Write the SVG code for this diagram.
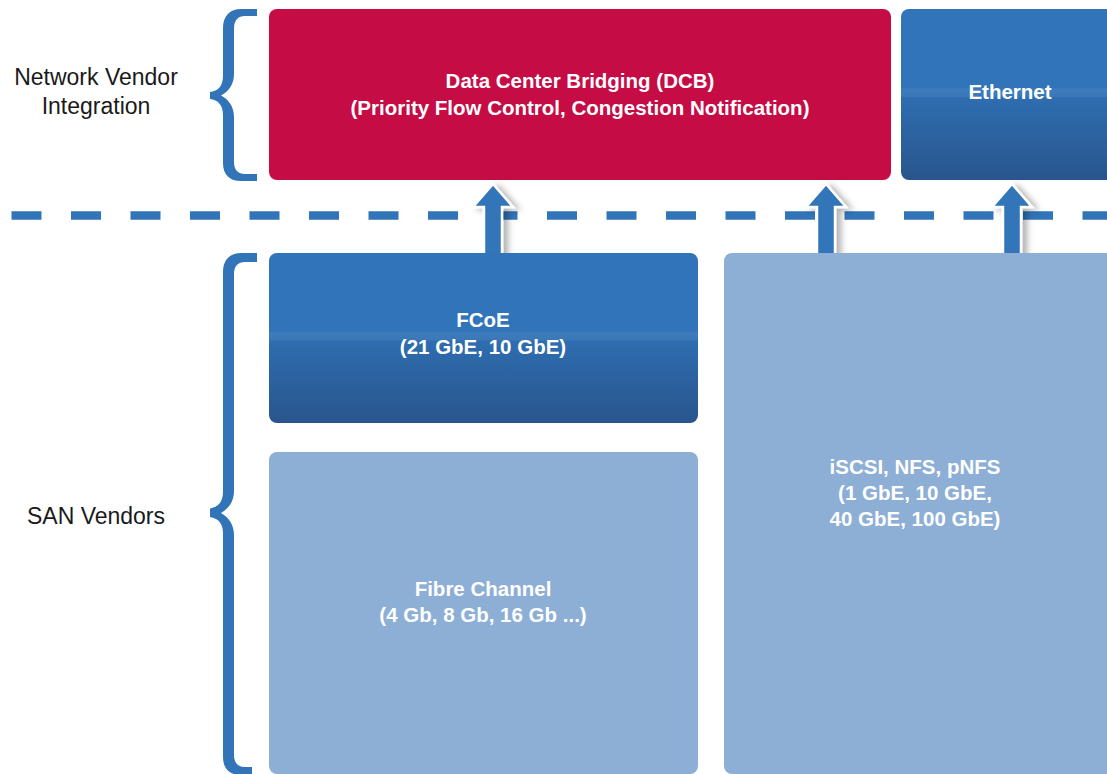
<svg xmlns="http://www.w3.org/2000/svg" width="1107" height="774" viewBox="0 0 1107 774">
  <style>
    .box-text { font-family: "Liberation Sans", Arial, sans-serif; font-weight: bold; font-size: 20.5px; fill: #ffffff; text-anchor: middle; }
    .side-text { font-family: "Liberation Sans", Arial, sans-serif; font-size: 23px; fill: #1a1a1a; text-anchor: middle; }
    .brace { fill: #3174B8; }
    .sep { stroke: #3174B8; stroke-width: 8.5; stroke-dasharray: 30 29.5; fill: none; }
    .arrow { fill: #3174B8; stroke: #ffffff; stroke-width: 2.5; stroke-linejoin: miter; filter: url(#shadow); }
    .dcb { fill: #C50C45; }
    .light { fill: #8DAED5; }
    .dark { fill: url(#gloss); }
  </style>
  <defs>
    <linearGradient id="gloss" x1="0" y1="0" x2="0" y2="1">
      <stop offset="0" stop-color="#3274B9"/>
      <stop offset="0.46" stop-color="#3274B9"/>
      <stop offset="0.47" stop-color="#3D7BBC"/>
      <stop offset="0.51" stop-color="#3A78B8"/>
      <stop offset="0.52" stop-color="#2E6DB0"/>
      <stop offset="1" stop-color="#29558C"/>
    </linearGradient>
    <filter id="shadow" x="-50%" y="-20%" width="200%" height="140%">
      <feDropShadow dx="5" dy="2" stdDeviation="3" flood-color="#000000" flood-opacity="0.3"/>
    </filter>
  </defs>

  <!-- side labels -->
  <g id="label-network">
    <text class="side-text" x="96" y="85">Network Vendor</text>
    <text class="side-text" x="96" y="114">Integration</text>
  </g>
  <g id="label-san">
    <text class="side-text" x="96" y="524">SAN Vendors</text>
  </g>

  <!-- braces -->
  <g id="brace-network">
    <path class="brace" d="M257,9 H241 C230,9 223,16 223,28 V76 C223,86 218,91 210,92 V99 C218,100 223,105 223,115 V163 C223,175 230,181 241,181 H257 V174 H245 C238,174 234,170 234,162 V117 C234,106 228,99 221,95.5 C228,92 234,85 234,74 V29 C234,20 238,16 245,16 H257 Z"/>
  </g>
  <g id="brace-san">
    <path class="brace" d="M257,253 H241 C230,253 223,260 223,272 V492 C223,502 218,507 210,508.5 V517 C218,518.5 223,523 223,533 V757 C223,769 230,775 241,775 H252 V767 H245 C238,767 234,763 234,755 V535 C234,524 228,517 221,513 C228,509 234,502 234,491 V274 C234,266 238,262 245,262 H257 Z"/>
  </g>

  <!-- layer separator -->
  <line class="sep" x1="11.5" y1="215.5" x2="1107" y2="215.5"/>

  <!-- connectors -->
  <g id="connectors">
    <polygon class="arrow" points="493,184 513,207 502,207 502,258 484,258 484,207 473,207"/>
    <polygon class="arrow" points="826,184 846,207 835,207 835,258 817,258 817,207 806,207"/>
    <polygon class="arrow" points="1012,184 1032,207 1021,207 1021,258 1003,258 1003,207 992,207"/>
  </g>

  <!-- upper layer -->
  <g id="node-dcb">
    <rect class="dcb" x="269" y="9" width="622" height="171" rx="8"/>
    <text class="box-text" x="580" y="88">Data Center Bridging (DCB)</text>
    <text class="box-text" x="580" y="115">(Priority Flow Control, Congestion Notification)</text>
  </g>
  <g id="node-ethernet">
    <rect class="dark" x="901" y="9" width="222" height="171" rx="8"/>
    <text class="box-text" x="1010" y="99">Ethernet</text>
  </g>

  <!-- lower layer -->
  <g id="node-fcoe">
    <rect class="dark" x="269" y="253" width="429" height="170" rx="8"/>
    <text class="box-text" x="483" y="327">FCoE</text>
    <text class="box-text" x="483" y="354">(21 GbE, 10 GbE)</text>
  </g>
  <g id="node-fibre">
    <rect class="light" x="269" y="452" width="429" height="322" rx="8"/>
    <text class="box-text" x="483" y="596">Fibre Channel</text>
    <text class="box-text" x="483" y="622">(4 Gb, 8 Gb, 16 Gb ...)</text>
  </g>
  <g id="node-iscsi">
    <rect class="light" x="724" y="253" width="400" height="521" rx="8"/>
    <text class="box-text" x="915" y="474">iSCSI, NFS, pNFS</text>
    <text class="box-text" x="915" y="500">(1 GbE, 10 GbE,</text>
    <text class="box-text" x="915" y="526">40 GbE, 100 GbE)</text>
  </g>
</svg>
